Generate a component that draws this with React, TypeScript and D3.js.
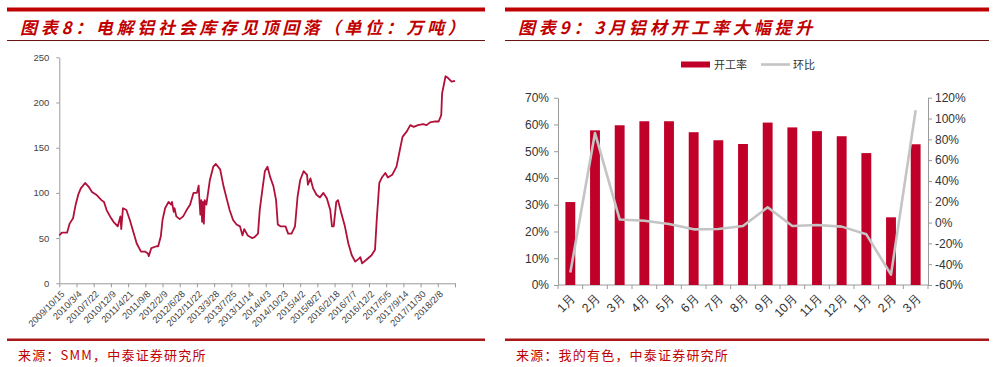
import * as d3 from "d3";
import { useEffect, useRef } from "react";

// ---- chart 8: aluminium social inventory (10k t), one value per observation index
const stockObs = [0, 3, 9, 12, 16, 19, 22, 25, 30, 34, 38, 43, 49, 52, 55, 59, 63, 68, 71, 72, 74, 78, 82, 86, 90, 95, 100, 103, 104, 107, 113, 115, 118, 120, 123, 127, 130, 131, 133, 134, 136, 140, 144, 148, 152, 156, 160, 162, 163, 164, 165, 166, 167, 168, 169, 171, 175, 179, 182, 187, 191, 195, 198, 202, 206, 210, 213, 215, 219, 224, 227, 231, 233, 236, 239, 242, 245, 249, 252, 254, 257, 263, 266, 270, 274, 277, 280, 284, 288, 289, 292, 295, 299, 303, 307, 311, 315, 317, 319, 322, 324, 328, 332, 336, 340, 344, 348, 350, 352, 357, 363, 367, 369, 372, 375, 379, 382, 387, 392, 396, 399, 404, 408, 412, 417, 423, 427, 431, 437, 441, 444, 445, 449, 452, 456, 460];
const stockValues = [53, 56, 56, 66, 72, 87, 98, 105, 111, 107, 101, 98, 92, 90, 81, 74, 68, 63, 74, 60, 83, 81, 70, 57, 44, 35, 35, 33, 30, 39, 41, 41, 52, 70, 83, 90, 87, 90, 79, 83, 74, 71, 74, 81, 87, 100, 100, 108, 90, 76, 92, 68, 90, 66, 92, 87, 114, 129, 132, 126, 107, 92, 81, 70, 65, 63, 53, 60, 53, 50, 51, 55, 81, 103, 124, 129, 118, 107, 92, 65, 63, 63, 55, 55, 63, 96, 114, 124, 120, 109, 116, 105, 98, 95, 100, 94, 81, 63, 63, 90, 92, 77, 63, 44, 31, 24, 27, 29, 22, 26, 31, 37, 70, 111, 117, 122, 117, 120, 129, 148, 162, 168, 175, 173, 175, 176, 175, 178, 179, 179, 186, 210, 229, 227, 223, 224];
const stockDates = ["2009/10/15", "2010/3/4", "2010/7/22", "2010/12/9", "2011/4/21", "2011/9/8", "2012/2/9", "2012/6/28", "2012/11/22", "2013/3/28", "2013/7/25", "2013/11/14", "2014/4/3", "2014/10/23", "2015/4/2", "2015/8/27", "2016/2/18", "2016/7/7", "2016/12/2", "2017/5/5", "2017/9/14", "2017/11/30", "2018/2/8"];
const stockTicks = [0, 50, 100, 150, 200, 250];

// ---- chart 9: aluminium processing operating rate
const months = ["1月", "2月", "3月", "4月", "5月", "6月", "7月", "8月", "9月", "10月", "11月", "12月", "1月", "2月", "3月"];
const operatingRate = [0.31, 0.578, 0.597, 0.612, 0.612, 0.571, 0.541, 0.527, 0.607, 0.589, 0.575, 0.556, 0.493, 0.253, 0.526];
const momChange = [-0.48, 0.86, 0.03, 0.018, -0.013, -0.065, -0.062, -0.033, 0.147, -0.033, -0.023, -0.039, -0.113, -0.50, 1.08];
const rateTicks = [0, 0.1, 0.2, 0.3, 0.4, 0.5, 0.6, 0.7];
const momTicks = [-0.6, -0.4, -0.2, 0, 0.2, 0.4, 0.6, 0.8, 1.0, 1.2];

const RED = "#C00000";
const AXIS = "#9a9a9a";
const NUM_FONT = "'Liberation Sans', Arial, sans-serif";
const CJK_FONT = "'Noto Sans CJK SC', sans-serif";

function App() {
  const ref = useRef<SVGSVGElement>(null);

  useEffect(() => {
    const svg = d3.select(ref.current);
    svg.selectAll("*").remove();

    // Frames: thick red top rule, title, thin rule, footer rule, source
    const frames = [
      { x0: 7, x1: 485, title: "图表8：电解铝社会库存见顶回落（单位：万吨）", ls: 3.7, source: "来源：SMM，中泰证券研究所" },
      { x0: 505, x1: 989, title: "图表9：3月铝材开工率大幅提升", ls: 3.8, source: "来源：我的有色，中泰证券研究所" },
    ];
    frames.forEach((f) => {
      svg.append("rect").attr("x", f.x0).attr("y", 7.5).attr("width", f.x1 - f.x0).attr("height", 4).attr("fill", RED);
      svg
        .append("text")
        .attr("x", f.x0 + 13)
        .attr("y", 34)
        .attr("fill", RED)
        .attr("font-family", CJK_FONT)
        .attr("font-weight", "bold")
        .attr("font-style", "italic")
        .attr("font-size", 17)
        .attr("letter-spacing", f.ls)
        .text(f.title);
      svg.append("line").attr("x1", f.x0).attr("x2", f.x1).attr("y1", 40.5).attr("y2", 40.5).attr("stroke", "#6b1414").attr("stroke-width", 1);
      svg.append("rect").attr("x", f.x0).attr("y", 338.5).attr("width", f.x1 - f.x0).attr("height", 2.5).attr("fill", "#A81818");
      svg
        .append("text")
        .attr("x", f.x0 + 11)
        .attr("y", 360)
        .attr("fill", RED)
        .attr("font-family", CJK_FONT)
        .attr("font-size", 13)
        .attr("letter-spacing", 1.2)
        .text(f.source);
    });

    // ===== Left chart: inventory line
    const xStock = d3.scaleLinear().domain([0, 460]).range([59.3, 455]);
    const yStock = d3.scaleLinear().domain([0, 250]).range([283.3, 57.3]);

    const yAxisL = svg
      .append("g")
      .attr("transform", `translate(${xStock(0)},0)`)
      .call(d3.axisLeft(yStock).tickValues(stockTicks).tickSize(3).tickPadding(7).tickSizeOuter(0));
    yAxisL.selectAll("text").attr("font-family", NUM_FONT).attr("font-size", 9.5).attr("fill", "#444");

    const xAxisL = svg
      .append("g")
      .attr("transform", `translate(0,${yStock(0)})`)
      .call(
        d3
          .axisBottom(xStock)
          .tickValues(d3.range(0, 461, 20))
          .tickSize(4)
          .tickSizeOuter(0)
          .tickFormat((d, i) => stockDates[i] ?? "")
      );
    xAxisL
      .selectAll("text")
      .attr("x", 0)
      .attr("y", 0)
      .attr("dy", "0.35em")
      .attr("transform", "translate(3,9) rotate(-45)")
      .style("text-anchor", "end")
      .attr("font-family", NUM_FONT)
      .attr("font-size", 9.3)
      .attr("fill", "#444");

    [yAxisL, xAxisL].forEach((a) => {
      a.select(".domain").attr("stroke", AXIS);
      a.selectAll(".tick line").attr("stroke", AXIS);
    });

    const stockLine = d3
      .line<number>()
      .x((d, i) => xStock(stockObs[i]))
      .y((d) => yStock(d));
    svg
      .append("path")
      .datum(stockValues)
      .attr("fill", "none")
      .attr("stroke", "#B0103A")
      .attr("stroke-width", 1.8)
      .attr("stroke-linejoin", "round")
      .attr("d", stockLine);

    // ===== Right chart: bars + mom line on secondary axis
    const xBand = d3
      .scaleBand<number>()
      .domain(d3.range(months.length))
      .range([558, 928])
      .paddingInner(0.6)
      .paddingOuter(0.3);
    const yRate = d3.scaleLinear().domain([0, 0.7]).range([285, 97.7]);
    const yMom = d3.scaleLinear().domain([-0.6, 1.2]).range([285, 97.7]);
    const pct = (d: number) => `${Math.round(d * 100)}%`;

    const yAxisR1 = svg
      .append("g")
      .attr("transform", "translate(558,0)")
      .call(d3.axisLeft(yRate).tickValues(rateTicks).tickSize(4).tickPadding(5).tickSizeOuter(0).tickFormat((d) => pct(+d)));
    const yAxisR2 = svg
      .append("g")
      .attr("transform", "translate(928,0)")
      .call(d3.axisRight(yMom).tickValues(momTicks).tickSize(4).tickPadding(3).tickSizeOuter(0).tickFormat((d) => pct(+d)));
    [yAxisR1, yAxisR2].forEach((a) => {
      a.select(".domain").attr("stroke", AXIS);
      a.selectAll(".tick line").attr("stroke", AXIS);
      a.selectAll("text").attr("font-family", NUM_FONT).attr("font-size", 12).attr("fill", "#333");
    });

    // bottom axis with ticks between categories
    const step = xBand.step();
    const bounds = d3.range(months.length + 1).map((k) => 558 + k * step);
    const xAxisR = svg.append("g");
    xAxisR.append("line").attr("x1", 558).attr("x2", 928).attr("y1", 285).attr("y2", 285).attr("stroke", AXIS);
    xAxisR
      .selectAll("line.tk")
      .data(bounds)
      .enter()
      .append("line")
      .attr("class", "tk")
      .attr("x1", (d) => d)
      .attr("x2", (d) => d)
      .attr("y1", 285)
      .attr("y2", 289)
      .attr("stroke", AXIS);
    xAxisR
      .selectAll("text")
      .data(months)
      .enter()
      .append("text")
      .attr("transform", (d, i) => `translate(${xBand(i)! + xBand.bandwidth() / 2 + 3},296) rotate(-45)`)
      .attr("dy", "0.35em")
      .style("text-anchor", "end")
      .attr("font-family", NUM_FONT)
      .attr("font-size", 12.5)
      .attr("fill", "#333")
      .text((d) => d);

    svg
      .selectAll("rect.bar")
      .data(operatingRate)
      .enter()
      .append("rect")
      .attr("class", "bar")
      .attr("x", (d, i) => xBand(i)!)
      .attr("width", xBand.bandwidth())
      .attr("y", (d) => yRate(d))
      .attr("height", (d) => yRate(0) - yRate(d))
      .attr("fill", "#C00028");

    const momLine = d3
      .line<number>()
      .x((d, i) => xBand(i)! + xBand.bandwidth() / 2)
      .y((d) => yMom(d));
    svg
      .append("path")
      .datum(momChange)
      .attr("fill", "none")
      .attr("stroke", "#C4C4C4")
      .attr("stroke-width", 2.6)
      .attr("stroke-linejoin", "round")
      .attr("d", momLine);

    // legend
    const legend = svg.append("g").attr("font-family", CJK_FONT).attr("font-size", 11).attr("fill", "#333");
    legend.append("rect").attr("x", 681).attr("y", 61.5).attr("width", 29).attr("height", 6).attr("fill", "#C00028");
    legend.append("text").attr("x", 714).attr("y", 68.5).text("开工率");
    legend.append("line").attr("x1", 761).attr("x2", 790).attr("y1", 64.5).attr("y2", 64.5).attr("stroke", "#C4C4C4").attr("stroke-width", 2.6);
    legend.append("text").attr("x", 793).attr("y", 68.5).text("环比");
  }, []);

  return (
    <svg
      ref={ref}
      width={1000}
      height={367}
      style={{ position: "absolute", left: 0, top: 0, background: "#fff" }}
    />
  );
}

export default App;
